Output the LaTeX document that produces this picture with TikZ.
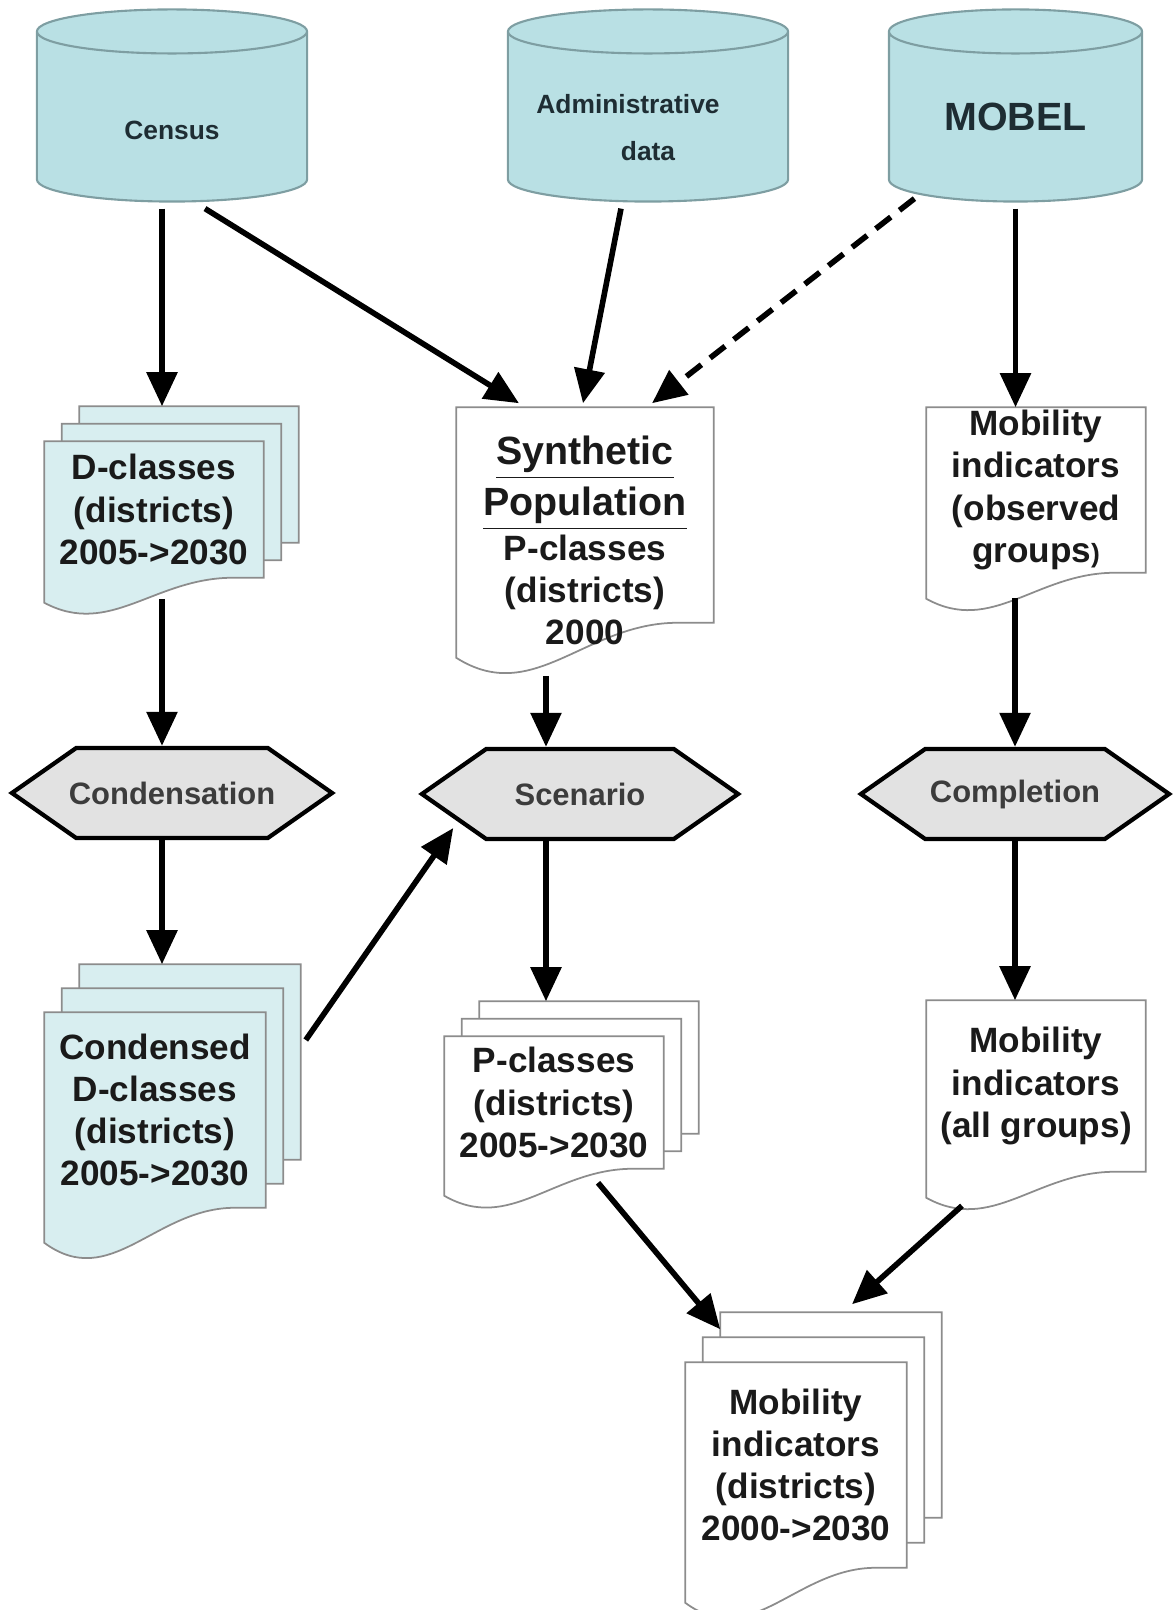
\documentclass[tikz,border=0pt]{standalone}
\usepackage{fontspec}
\setmainfont{Liberation Sans}
\usetikzlibrary{arrows.meta, calc, shapes.geometric, shapes.symbols, backgrounds}

\definecolor{dbfill}{HTML}{B9E0E4}
\definecolor{dbline}{HTML}{7E9EA2}
\definecolor{dbtext}{HTML}{1E2D33}
\definecolor{docblue}{HTML}{D8EEF0}
\definecolor{docline}{HTML}{8C8C8C}
\definecolor{doctext}{HTML}{1A1A1A}
\definecolor{procfill}{HTML}{E2E2E2}
\definecolor{proctext}{HTML}{3C3C3C}

% document sheet with a wavy bottom edge: node, fill, wave depth
\newcommand{\sheet}[3]{%
  \draw[sheetline, fill=#2]
    (#1.north west) -- (#1.north east) -- (#1.south east)
    -- ($(#1.south east)!0.14!(#1.south west)$)
    .. controls ($(#1.south west)!0.5!(#1.south east)$)
    and ($(#1.south west)!0.3!(#1.south east)+(0,2.4*#3)$)
    .. ($(#1.south west)+(0,#3)$) -- cycle;
}
% text of a data source, same box for all so the caps match
\newcommand{\dbtext}[2]{\raisebox{#1}[0pt][0pt]{\makebox[0.8cm]{#2}}}

\begin{document}
\begin{tikzpicture}[x=0.01cm, y=-0.01cm,
    db/.style={cylinder, shape border rotate=90, aspect=0.55, draw=dbline, line width=0.6pt,
      fill=dbfill, text=dbtext, minimum height=1.92cm, inner sep=0pt, anchor=shape center},
    docbox/.style={rectangle, inner sep=0pt, align=center, text=doctext,
      font=\fontsize{10}{12}\selectfont\bfseries},
    sheetline/.style={draw=docline, line width=0.5pt},
    proc/.style={signal, signal to=west and east, signal pointer angle=70, draw, line width=1.2pt,
      fill=procfill, text=proctext, minimum height=0.9cm, inner sep=0pt,
      font=\fontsize{8.8}{10}\selectfont\bfseries},
    flow/.style={-{Triangle[length=3.4mm,width=3mm]}, line width=1.6pt}]
  \useasboundingbox (0,0) rectangle (1174,1610);

  % data sources
  \node[db, minimum width=2.7cm, font=\fontsize{7.5}{9}\selectfont\bfseries] (census) at (172,105.5)
    {\dbtext{-2.2mm}{Census}};
  \node[db, minimum width=2.8cm, font=\fontsize{7.5}{9}\selectfont\bfseries] (admin) at (648,105.5)
    {\dbtext{0.4mm}{\begin{tabular}[t]{@{}c@{}}Administrative\hspace*{4mm}\\[4.6pt]data\end{tabular}}};
  \node[db, minimum width=2.53cm, font=\fontsize{11.2}{13}\selectfont\bfseries] (mobel) at (1015.5,105.5)
    {\dbtext{-1.3mm}{MOBEL}};

  % documents
  \node[docbox, minimum width=2.18cm, minimum height=1.35cm] (dcls) at (154,509.5) {D-classes\\(districts)\\2005->2030};
  \node[docbox, minimum width=2.18cm, minimum height=1.35cm] (dcls-m) at ($(dcls)+(17.5,-17.5)$) {};
  \node[docbox, minimum width=2.18cm, minimum height=1.35cm] (dcls-b) at ($(dcls)+(35,-35)$) {};
  \node[docbox, minimum width=2.56cm, minimum height=2.14cm] (synpop) at (585,515)
    {\raisebox{-4mm}[0pt][0pt]{\begin{tabular}{@{}c@{}}
      {\fontsize{11.2}{13}\selectfont\underline{Synthetic}}\\[2.5pt]
      {\fontsize{11.2}{13}\selectfont\underline{Population}}\\
      P-classes\\(districts)\\2000\end{tabular}}};
  \node[docbox, minimum width=2.18cm, minimum height=1.64cm] (obsind) at (1036,490)
    {Mobility\\indicators\\(observed\\groups{\fontsize{7.5}{12}\selectfont)}};

  % processes
  \node[proc, minimum width=3.2cm, inner xsep=-1mm] (condense) at (172,793) {Condensation};
  \node[proc, minimum width=3.16cm] (scenario) at (580,794) {Scenario};
  \node[proc, minimum width=3.08cm] (complete) at (1015,794) {Completion};

  \node[docbox, minimum width=2.2cm, minimum height=1.94cm] (cdcls) at (155,1110) {Condensed\\D-classes\\(districts)\\2005->2030};
  \node[docbox, minimum width=2.2cm, minimum height=1.94cm] (cdcls-m) at ($(cdcls)+(17.5,-24)$) {};
  \node[docbox, minimum width=2.2cm, minimum height=1.94cm] (cdcls-b) at ($(cdcls)+(35,-48)$) {};
  \node[docbox, minimum width=2.18cm, minimum height=1.31cm] (pcls) at (554,1102.5) {P-classes\\(districts)\\2005->2030};
  \node[docbox, minimum width=2.18cm, minimum height=1.31cm] (pcls-m) at ($(pcls)+(17.5,-17.5)$) {};
  \node[docbox, minimum width=2.18cm, minimum height=1.31cm] (pcls-b) at ($(pcls)+(35,-35)$) {};
  \node[docbox, minimum width=2.18cm, minimum height=1.7cm] (allind) at (1036,1086) {Mobility\\indicators\\(all groups)};
  \node[docbox, minimum width=2.2cm, minimum height=2.04cm] (distind) at (796,1465) {Mobility\\indicators\\(districts)\\2000->2030};
  \node[docbox, minimum width=2.2cm, minimum height=2.04cm] (distind-m) at ($(distind)+(17.5,-25)$) {};
  \node[docbox, minimum width=2.2cm, minimum height=2.04cm] (distind-b) at ($(distind)+(35,-50)$) {};

  \begin{scope}[on background layer]
    \sheet{dcls-b}{docblue}{25} \sheet{dcls-m}{docblue}{25} \sheet{dcls}{docblue}{25}
    \sheet{synpop}{white}{35}
    \sheet{obsind}{white}{26}
    \sheet{cdcls-b}{docblue}{35} \sheet{cdcls-m}{docblue}{35} \sheet{cdcls}{docblue}{35}
    \sheet{pcls-b}{white}{27} \sheet{pcls-m}{white}{27} \sheet{pcls}{white}{27}
    \sheet{allind}{white}{26}
    \sheet{distind-b}{white}{35} \sheet{distind-m}{white}{35} \sheet{distind}{white}{35}
  \end{scope}

  % flows
  \draw[flow] ([xshift=-1mm,yshift=-0.6mm]census.south) -- ([xshift=-1mm]census.south |- dcls-b.north);
  \draw[flow] ([xshift=3.3mm,yshift=-0.6mm]census.south) -- ([xshift=-6.6mm,yshift=0.4mm]synpop.north);
  \draw[flow] ([xshift=-2.7mm,yshift=-0.6mm]admin.south) -- ([xshift=-0.2mm,yshift=0.4mm]synpop.north);
  \draw[flow, dash pattern=on 1.9mm off 1.1mm] ([xshift=-10.1mm,yshift=0.4mm]mobel.south) -- ([xshift=6.7mm,yshift=0.4mm]synpop.north);
  \draw[flow] ([yshift=-0.6mm]mobel.south) -- (mobel.south |- obsind.north);

  \draw[flow] ([xshift=-1mm,yshift=-2.1mm]condense.north |- dcls.south) -- ([xshift=-1mm]condense.north);
  \draw[flow] ([xshift=-3.4mm,yshift=-5.3mm]scenario.north |- synpop.south) -- ([xshift=-3.4mm]scenario.north);
  \draw[flow] ([yshift=-2.5mm]complete.north |- obsind.south) -- (complete.north);

  \draw[flow] ([xshift=-1mm]condense.south) -- ([xshift=-1mm]condense.south |- cdcls-b.north);
  \draw[flow] ([xshift=-3.4mm]scenario.south) -- ([xshift=-3.4mm]scenario.south |- pcls-b.north);
  \draw[flow] (complete.south) -- (complete.south |- allind.north);
  \draw[flow] ([xshift=0.5mm,yshift=2.2mm]cdcls-b.east) -- ([xshift=3.5mm,yshift=-3.4mm]scenario.west);

  \draw[flow] ([xshift=4.4mm,yshift=-1.4mm]pcls.south) -- ([yshift=-1.7mm]distind-b.north west);
  \draw[flow] ([xshift=-7.4mm,yshift=-3.4mm]allind.south) -- ([xshift=2.1mm,yshift=0.8mm]distind-b.north);
\end{tikzpicture}
\end{document}
